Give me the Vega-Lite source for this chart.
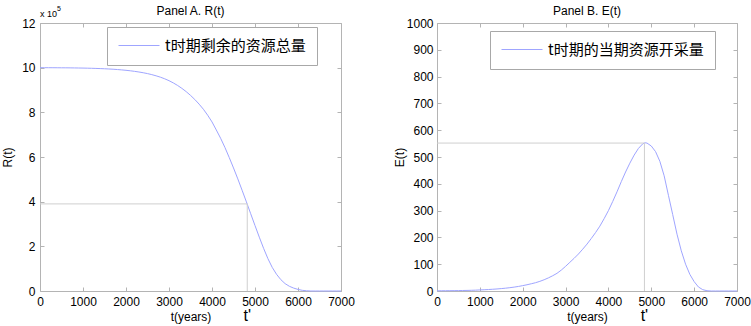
{
  "$schema": "https://vega.github.io/schema/vega-lite/v6.json",
  "background": "white",
  "padding": {"left": 1, "top": 4, "right": 5, "bottom": 0},
  "config": {
    "font": "Liberation Sans",
    "view": {"stroke": "#b4b4b4", "strokeWidth": 1},
    "axis": {"grid": false, "domain": false, "tickColor": "#b4b4b4", "tickSize": -4, "labelFont": "Liberation Sans", "labelFontSize": 12, "labelColor": "#000000", "titleFont": "Liberation Sans", "titleFontSize": 12, "titleFontWeight": "normal", "titleColor": "#000000", "labelFlush": false, "labelOverlap": false, "format": "d"},
    "title": {"font": "Liberation Sans", "fontSize": 12, "fontWeight": "normal", "color": "#000000"}
  },
  "datasets": {
    "R": [
      {"t":0,"R":10.000},{"t":100,"R":9.999},{"t":200,"R":9.998},{"t":300,"R":9.997},{"t":400,"R":9.996},{"t":500,"R":9.994},{"t":600,"R":9.993},{"t":700,"R":9.991},{"t":800,"R":9.988},{"t":900,"R":9.985},
      {"t":1000,"R":9.982},{"t":1100,"R":9.977},{"t":1200,"R":9.972},{"t":1300,"R":9.966},{"t":1400,"R":9.959},{"t":1500,"R":9.951},{"t":1600,"R":9.941},{"t":1700,"R":9.930},{"t":1800,"R":9.916},{"t":1900,"R":9.900},
      {"t":2000,"R":9.882},{"t":2100,"R":9.860},{"t":2200,"R":9.835},{"t":2300,"R":9.806},{"t":2400,"R":9.773},{"t":2500,"R":9.734},{"t":2600,"R":9.688},{"t":2700,"R":9.635},{"t":2800,"R":9.574},{"t":2900,"R":9.502},
      {"t":3000,"R":9.417},{"t":3100,"R":9.317},{"t":3200,"R":9.203},{"t":3300,"R":9.073},{"t":3400,"R":8.926},{"t":3500,"R":8.760},{"t":3600,"R":8.575},{"t":3700,"R":8.368},{"t":3800,"R":8.138},{"t":3900,"R":7.87},
      {"t":4000,"R":7.57},{"t":4100,"R":7.21},{"t":4200,"R":6.84},{"t":4300,"R":6.43},{"t":4400,"R":5.98},{"t":4500,"R":5.51},{"t":4600,"R":5.02},{"t":4700,"R":4.51},{"t":4800,"R":3.99},{"t":4900,"R":3.46},
      {"t":5000,"R":2.93},{"t":5100,"R":2.41},{"t":5200,"R":1.91},{"t":5300,"R":1.45},{"t":5400,"R":1.06},{"t":5500,"R":0.75},{"t":5600,"R":0.51},{"t":5700,"R":0.33},{"t":5800,"R":0.21},{"t":5900,"R":0.13},
      {"t":6000,"R":0.07},{"t":6100,"R":0.03},{"t":6200,"R":0.01},{"t":6300,"R":0},{"t":6400,"R":0},{"t":6500,"R":0},{"t":6600,"R":0},{"t":6700,"R":0},{"t":6800,"R":0},{"t":6900,"R":0},{"t":7000,"R":0}
    ],
    "E": [
      {"t":0,"E":0.8},{"t":100,"E":0.9},{"t":200,"E":1.0},{"t":300,"E":1.2},{"t":400,"E":1.4},{"t":500,"E":1.6},{"t":600,"E":1.9},{"t":700,"E":2.2},{"t":800,"E":2.6},{"t":900,"E":3.2},
      {"t":1000,"E":4.0},{"t":1100,"E":4.7},{"t":1200,"E":5.5},{"t":1300,"E":6.5},{"t":1400,"E":7.6},{"t":1500,"E":9.0},{"t":1600,"E":10.5},{"t":1700,"E":12.4},{"t":1800,"E":14.5},{"t":1900,"E":17.0},
      {"t":2000,"E":20.0},{"t":2100,"E":23.3},{"t":2200,"E":27.0},{"t":2300,"E":31.0},{"t":2400,"E":36.0},{"t":2500,"E":42.0},{"t":2600,"E":49},{"t":2700,"E":57},{"t":2800,"E":66},{"t":2900,"E":78},
      {"t":3000,"E":92},{"t":3100,"E":107},{"t":3200,"E":122},{"t":3300,"E":138},{"t":3400,"E":156},{"t":3500,"E":175},{"t":3600,"E":196},{"t":3700,"E":218},{"t":3800,"E":242},{"t":3900,"E":270},
      {"t":4000,"E":300},{"t":4100,"E":334},{"t":4200,"E":370},{"t":4300,"E":408},{"t":4400,"E":444},{"t":4500,"E":477},{"t":4600,"E":507},{"t":4700,"E":532},{"t":4800,"E":549},{"t":4850,"E":553},{"t":4900,"E":552},
      {"t":5000,"E":541},{"t":5100,"E":520},{"t":5200,"E":484},{"t":5300,"E":430},{"t":5400,"E":357},{"t":5500,"E":285},{"t":5600,"E":212},{"t":5700,"E":150},{"t":5800,"E":100},{"t":5900,"E":62},
      {"t":6000,"E":35},{"t":6100,"E":15},{"t":6200,"E":5},{"t":6300,"E":1},{"t":6400,"E":0},{"t":6500,"E":0},{"t":6600,"E":0},{"t":6700,"E":0},{"t":6800,"E":0},{"t":6900,"E":0},{"t":7000,"E":0}
    ],
    "RG": [{"x1":0,"x2":4820,"y1":3.9,"y2":3.9},{"x1":4820,"x2":4820,"y1":0,"y2":3.9}],
    "EG": [{"x1":0,"x2":4840,"y1":552,"y2":552},{"x1":4840,"x2":4840,"y1":0,"y2":552}],
    "RT": [{"t":4820,"y":0,"label":"t'"}],
    "ET": [{"t":4840,"y":0,"label":"t'"}],
    "SC": [{"t":0,"y":12,"a":"x 10","b":"5"}]
  },
  "spacing": 37,
  "resolve": {"scale": {"color": "independent"}, "legend": {"color": "independent"}},
  "hconcat": [
    {
      "width": 301, "height": 268,
      "title": {"text": "Panel A. R(t)", "offset": -13},
      "resolve": {"axis": {"x": "independent", "y": "independent"}},
      "layer": [
        {
          "data": {"name": "R"},
          "mark": {"type": "line", "strokeWidth": 1},
          "encoding": {
            "x": {"field": "t", "type": "quantitative", "scale": {"domain": [0, 7000], "nice": false}, "axis": {"orient": "bottom", "values": [0,1000,2000,3000,4000,5000,6000,7000], "title": "t(years)", "labelPadding": 9, "titlePadding": 4}},
            "y": {"field": "R", "type": "quantitative", "scale": {"domain": [0, 12], "nice": false}, "axis": {"orient": "left", "values": [0,2,4,6,8,10,12], "title": "R(t)", "labelPadding": 9, "titlePadding": 7}},
            "color": {"datum": "t时期剩余的资源总量", "type": "nominal", "scale": {"range": ["#9fa5ff"]},
              "legend": {"orient": "none", "legendX": 67, "legendY": 4, "title": null, "symbolType": "M-1.4,0L6.8,0", "symbolStrokeWidth": 1, "symbolSize": 100, "labelFont": "Noto Sans CJK SC", "labelFontSize": 15, "labelColor": "#000000", "padding": 11, "fillColor": "white", "strokeColor": "#a8a8a8", "labelOffset": 32}}
          }
        },
        {
          "data": {"name": "RG"},
          "mark": {"type": "rule", "color": "#cfcfcf", "strokeWidth": 1},
          "encoding": {
            "x": {"field": "x1", "type": "quantitative", "axis": {"orient": "top", "values": [0,1000,2000,3000,4000,5000,6000,7000], "labels": false, "title": null}},
            "x2": {"field": "x2"},
            "y": {"field": "y1", "type": "quantitative", "axis": {"orient": "right", "values": [0,2,4,6,8,10,12], "labels": false, "title": null}},
            "y2": {"field": "y2"}
          }
        },
        {
          "data": {"name": "RT"},
          "mark": {"type": "text", "fontSize": 16, "baseline": "middle", "dy": 25, "color": "#000000"},
          "encoding": {
            "x": {"field": "t", "type": "quantitative", "axis": null},
            "y": {"field": "y", "type": "quantitative", "axis": null},
            "text": {"field": "label"}
          }
        },
        {
          "data": {"name": "SC"},
          "mark": {"type": "text", "fontSize": 9, "align": "left", "baseline": "alphabetic", "dy": -6, "color": "#000000"},
          "encoding": {
            "x": {"field": "t", "type": "quantitative", "axis": null},
            "y": {"field": "y", "type": "quantitative", "axis": null},
            "text": {"field": "a"}
          }
        },
        {
          "data": {"name": "SC"},
          "mark": {"type": "text", "fontSize": 7, "align": "left", "baseline": "alphabetic", "dx": 17, "dy": -12, "color": "#000000"},
          "encoding": {
            "x": {"field": "t", "type": "quantitative", "axis": null},
            "y": {"field": "y", "type": "quantitative", "axis": null},
            "text": {"field": "b"}
          }
        }
      ]
    },
    {
      "width": 300, "height": 268,
      "title": {"text": "Panel B. E(t)", "offset": -1},
      "resolve": {"axis": {"x": "independent", "y": "independent"}},
      "layer": [
        {
          "data": {"name": "E"},
          "mark": {"type": "line", "strokeWidth": 1},
          "encoding": {
            "x": {"field": "t", "type": "quantitative", "scale": {"domain": [0, 7000], "nice": false}, "axis": {"orient": "bottom", "values": [0,1000,2000,3000,4000,5000,6000,7000], "title": "t(years)", "labelPadding": 9, "titlePadding": 4}},
            "y": {"field": "E", "type": "quantitative", "scale": {"domain": [0, 1000], "nice": false}, "axis": {"orient": "left", "values": [0,100,200,300,400,500,600,700,800,900,1000], "title": "E(t)", "labelPadding": 8, "titlePadding": 0}},
            "color": {"datum": "t时期的当期资源开采量", "type": "nominal", "scale": {"range": ["#9fa5ff"]},
              "legend": {"orient": "none", "legendX": 53, "legendY": 8, "title": null, "symbolType": "M-1.4,0L6.8,0", "symbolStrokeWidth": 1, "symbolSize": 100, "labelFont": "Noto Sans CJK SC", "labelFontSize": 15, "labelColor": "#000000", "padding": 11, "fillColor": "white", "strokeColor": "#a8a8a8", "labelOffset": 32}}
          }
        },
        {
          "data": {"name": "EG"},
          "mark": {"type": "rule", "color": "#cfcfcf", "strokeWidth": 1},
          "encoding": {
            "x": {"field": "x1", "type": "quantitative", "axis": {"orient": "top", "values": [0,1000,2000,3000,4000,5000,6000,7000], "labels": false, "title": null}},
            "x2": {"field": "x2"},
            "y": {"field": "y1", "type": "quantitative", "axis": {"orient": "right", "values": [0,100,200,300,400,500,600,700,800,900,1000], "labels": false, "title": null}},
            "y2": {"field": "y2"}
          }
        },
        {
          "data": {"name": "ET"},
          "mark": {"type": "text", "fontSize": 16, "baseline": "middle", "dy": 25, "color": "#000000"},
          "encoding": {
            "x": {"field": "t", "type": "quantitative", "axis": null},
            "y": {"field": "y", "type": "quantitative", "axis": null},
            "text": {"field": "label"}
          }
        }
      ]
    }
  ]
}
